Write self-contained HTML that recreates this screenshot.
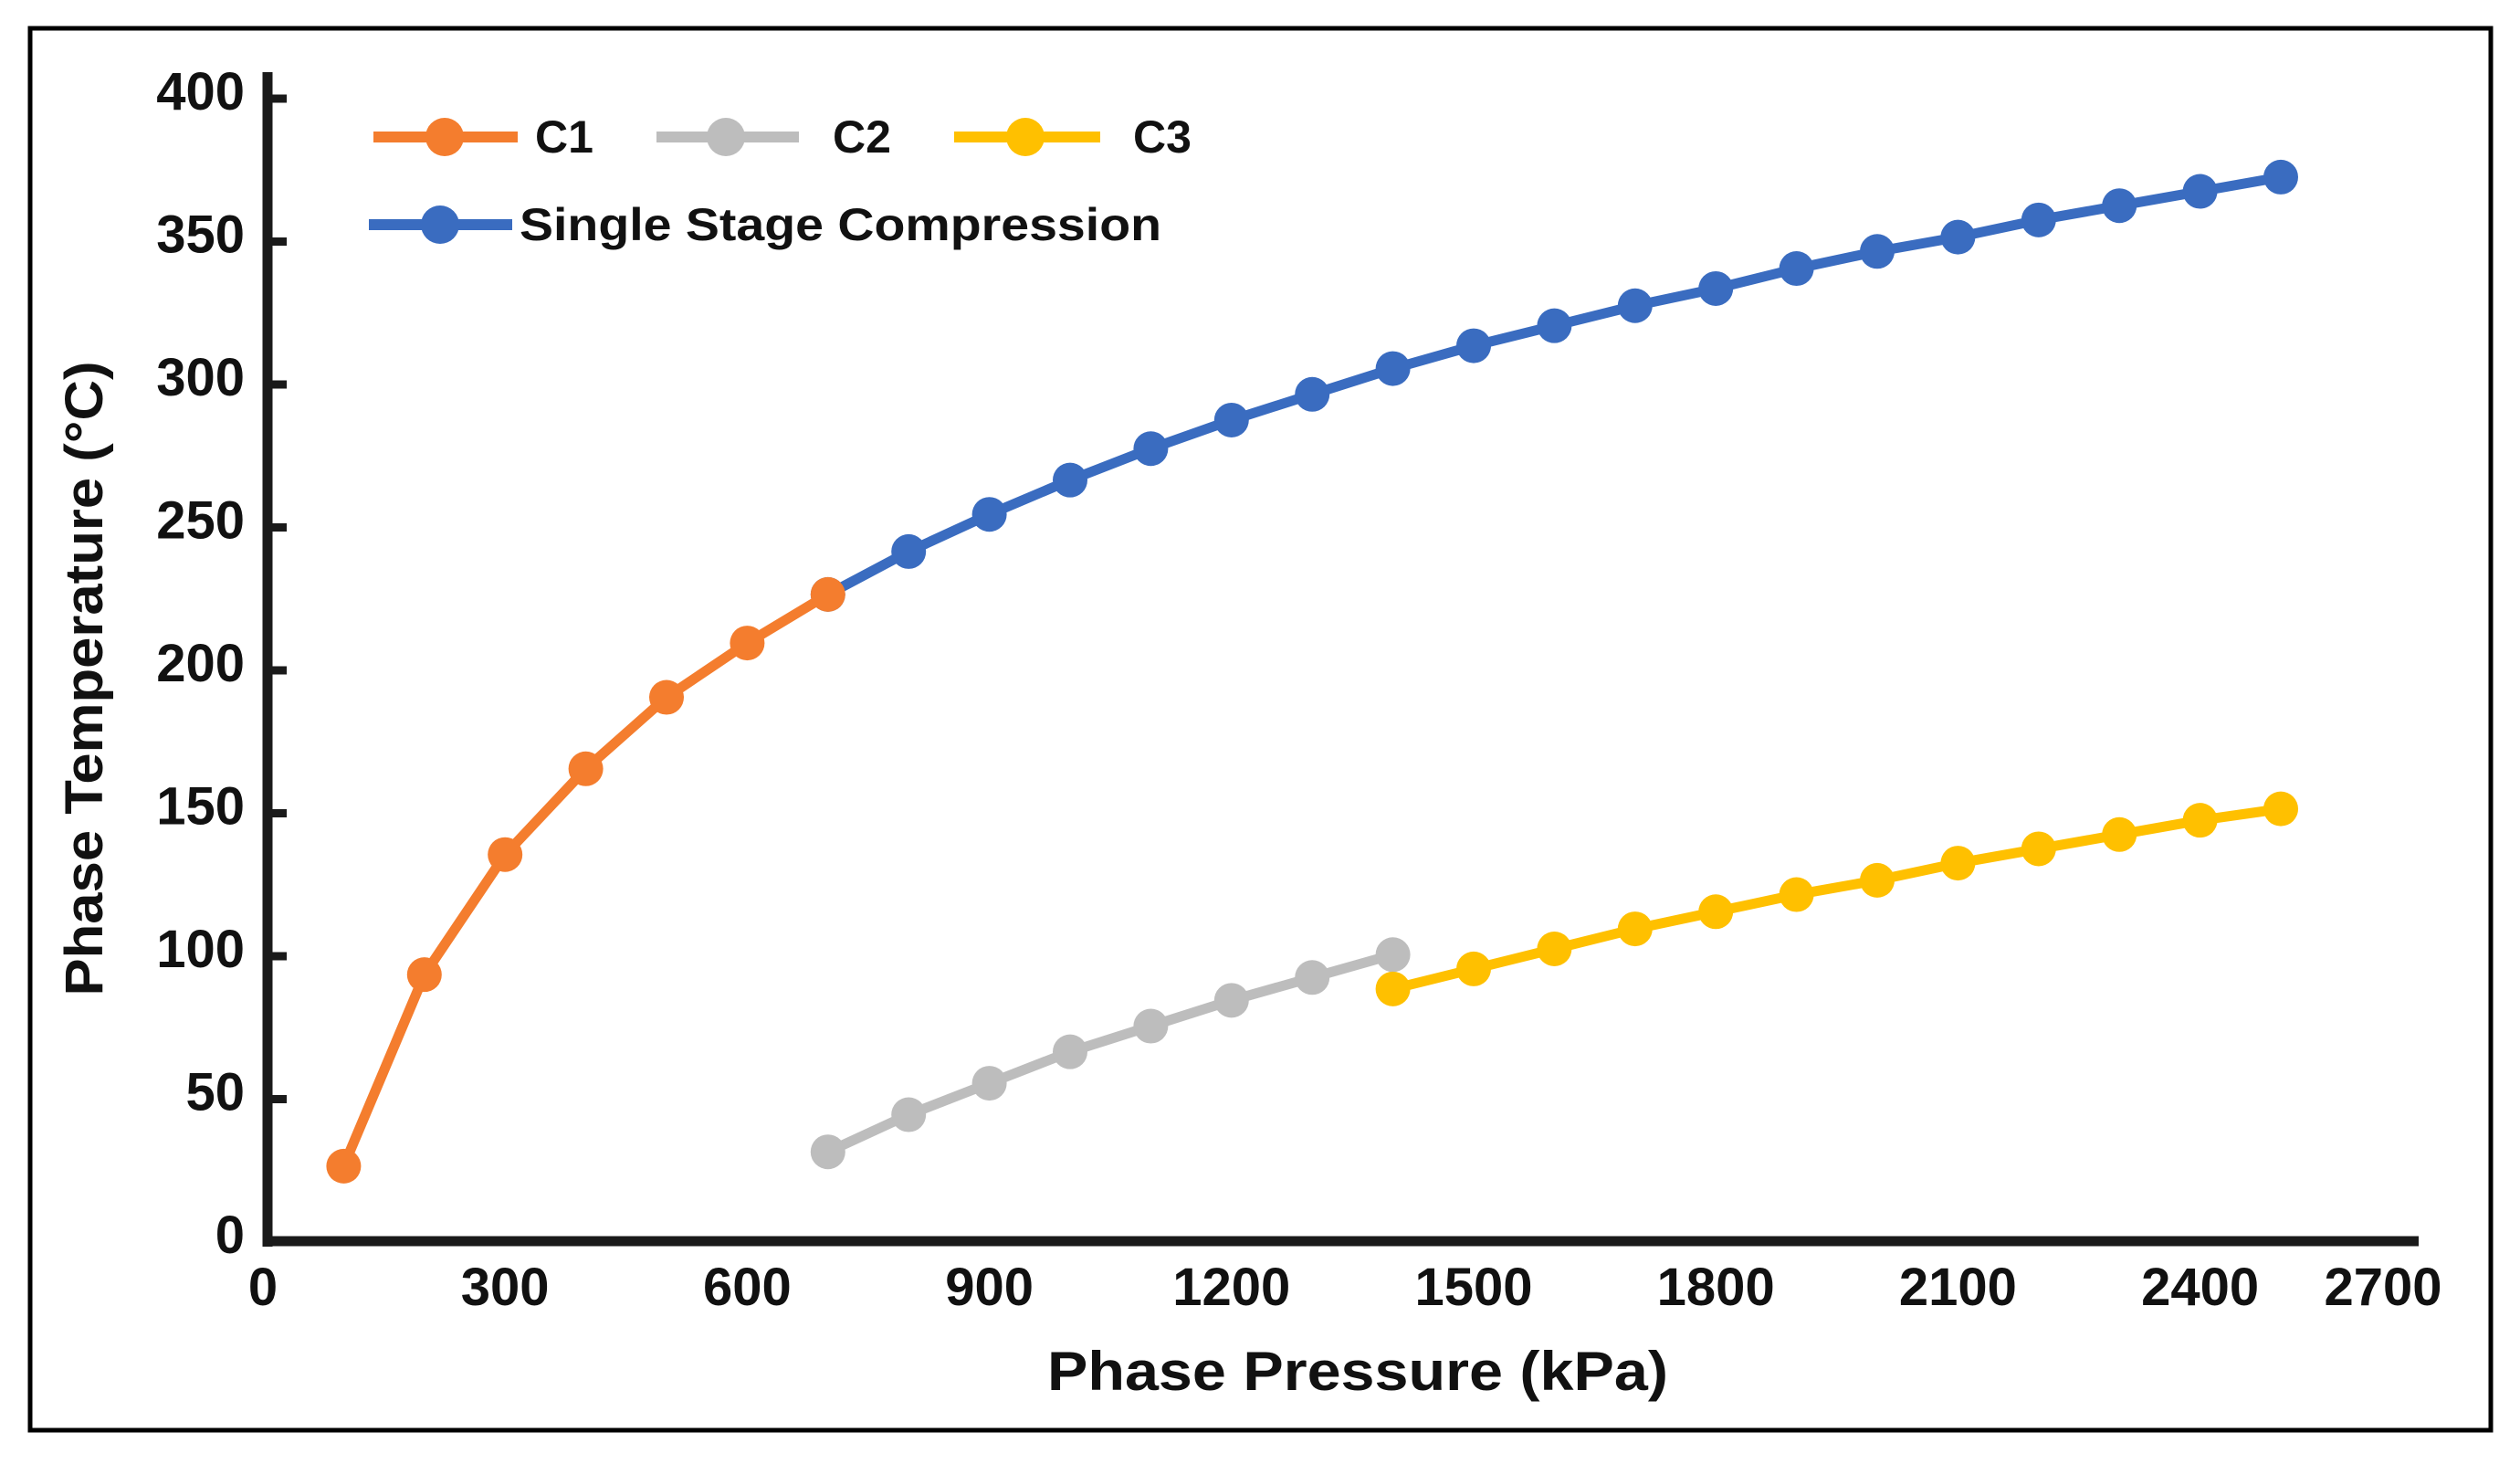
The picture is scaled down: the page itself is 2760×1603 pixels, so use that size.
<!DOCTYPE html>
<html><head><meta charset="utf-8"><style>
html,body{margin:0;padding:0;background:#fff;}
svg{display:block;font-family:"Liberation Sans",Arial,sans-serif;font-weight:bold;}
</style></head><body>
<svg id="chart" width="2760" height="1603" viewBox="0 0 2760 1603" xmlns="http://www.w3.org/2000/svg">
<rect x="33" y="31" width="2695" height="1535" fill="#fff" stroke="#000" stroke-width="5"/>
<g id="axes"></g>
<g id="series"></g>
<g id="legend"></g>
<text x="1487" y="1522" font-size="60" text-anchor="middle" textLength="680" lengthAdjust="spacingAndGlyphs" fill="#111">Phase Pressure (kPa)</text>
<text transform="translate(112,743) rotate(-90)" font-size="58" text-anchor="middle" textLength="695" lengthAdjust="spacingAndGlyphs" fill="#111">Phase Temperature (°C)</text>
</svg>
<script>
const xTicks = [0,300,600,900,1200,1500,1800,2100,2400,2700];
const yTicks = [0,50,100,150,200,250,300,350,400];
const c1P = [100,200,300,400,500,600,700];
const c1T = [24,91,133,163,188,207,224];
const c2P = [700,800,900,1000,1100,1200,1300,1400];
const c2T = [29,42,53,64,73,82,90,98];
const c3P = [1400,1500,1600,1700,1800,1900,2000,2100,2200,2300,2400,2500];
const c3T = [86,93,100,107,113,119,124,130,135,140,145,149];
const ssP = [700,800,900,1000,1100,1200,1300,1400,1500,1600,1700,1800,1900,2000,2100,2200,2300,2400,2500];
const ssT = [224,239,252,264,275,285,294,303,311,318,325,331,338,344,349,355,360,365,370];

const NS="http://www.w3.org/2000/svg";
function X(p){return 288+0.884*p;}
function Y(t){return 1352-3.13*t;}
function mk(tag,attrs,parent){const e=document.createElementNS(NS,tag);for(const k in attrs)e.setAttribute(k,attrs[k]);parent.appendChild(e);return e;}
const axes=document.getElementById('axes');
const ya=mk('line',{x1:293,y1:79,x2:293,y2:1365,stroke:'#1a1a1a','stroke-width':11},axes);


const xa=mk('line',{x1:288,y1:1359,x2:2649,y2:1359,stroke:'#1a1a1a','stroke-width':11},axes);


xTicks.forEach(v=>{
  const t=mk('text',{x:Math.min(X(v),2610),y:1429,'font-size':58,'text-anchor':'middle',fill:'#111'},axes);
  t.textContent=v;
  
  
});
yTicks.forEach(v=>{
  const t=mk('text',{x:268,y:Y(v)+20,'font-size':58,'text-anchor':'end',fill:'#111'},axes);
  t.textContent=v;
  
  
  if(v>0){
    const tk=mk('line',{x1:293,y1:Y(v)+8,x2:314,y2:Y(v)+8,stroke:'#1a1a1a','stroke-width':9},axes);
    
    
  }
});
const ser=document.getElementById('series');
function drawSeries(name,P,T,color){
  const g=mk('g',{},ser);
  
  
  const pl=mk('polyline',{points:P.map((p,i)=>X(p)+','+Y(T[i])).join(' '),fill:'none',stroke:color,'stroke-width':11,'stroke-linejoin':'round'},g);
  
  
  P.forEach((p,i)=>{
    const c=mk('circle',{cx:X(p),cy:Y(T[i]),r:19,fill:color},g);
    
    
  });
}
drawSeries('single-stage',ssP,ssT,'#3a6cc0');
drawSeries('c2',c2P,c2T,'#bdbdbd');
drawSeries('c3',c3P,c3T,'#ffc000');
drawSeries('c1',c1P,c1T,'#f47d2e');
const lg=document.getElementById('legend');
function legendEntry(name,x1,x2,cx,y,color,label,tx,tl){
  const g=mk('g',{},lg);
  
  
  mk('line',{x1:x1,y1:y,x2:x2,y2:y,stroke:color,'stroke-width':12},g);
  mk('circle',{cx:cx,cy:y,r:21,fill:color},g);
  const t=mk('text',{x:tx,y:y+17,'font-size':50,fill:'#111'},g);
  if(tl){t.setAttribute('textLength',tl);t.setAttribute('lengthAdjust','spacingAndGlyphs');}
  t.textContent=label;
}
legendEntry('c1',409,567,487,150,'#f47d2e','C1',586);
legendEntry('c2',719,875,795,150,'#bdbdbd','C2',912);
legendEntry('c3',1045,1205,1123,150,'#ffc000','C3',1241);
legendEntry('single-stage',404,561,482,246,'#3a6cc0','Single Stage Compression',569,703);
</script>
</body></html>
